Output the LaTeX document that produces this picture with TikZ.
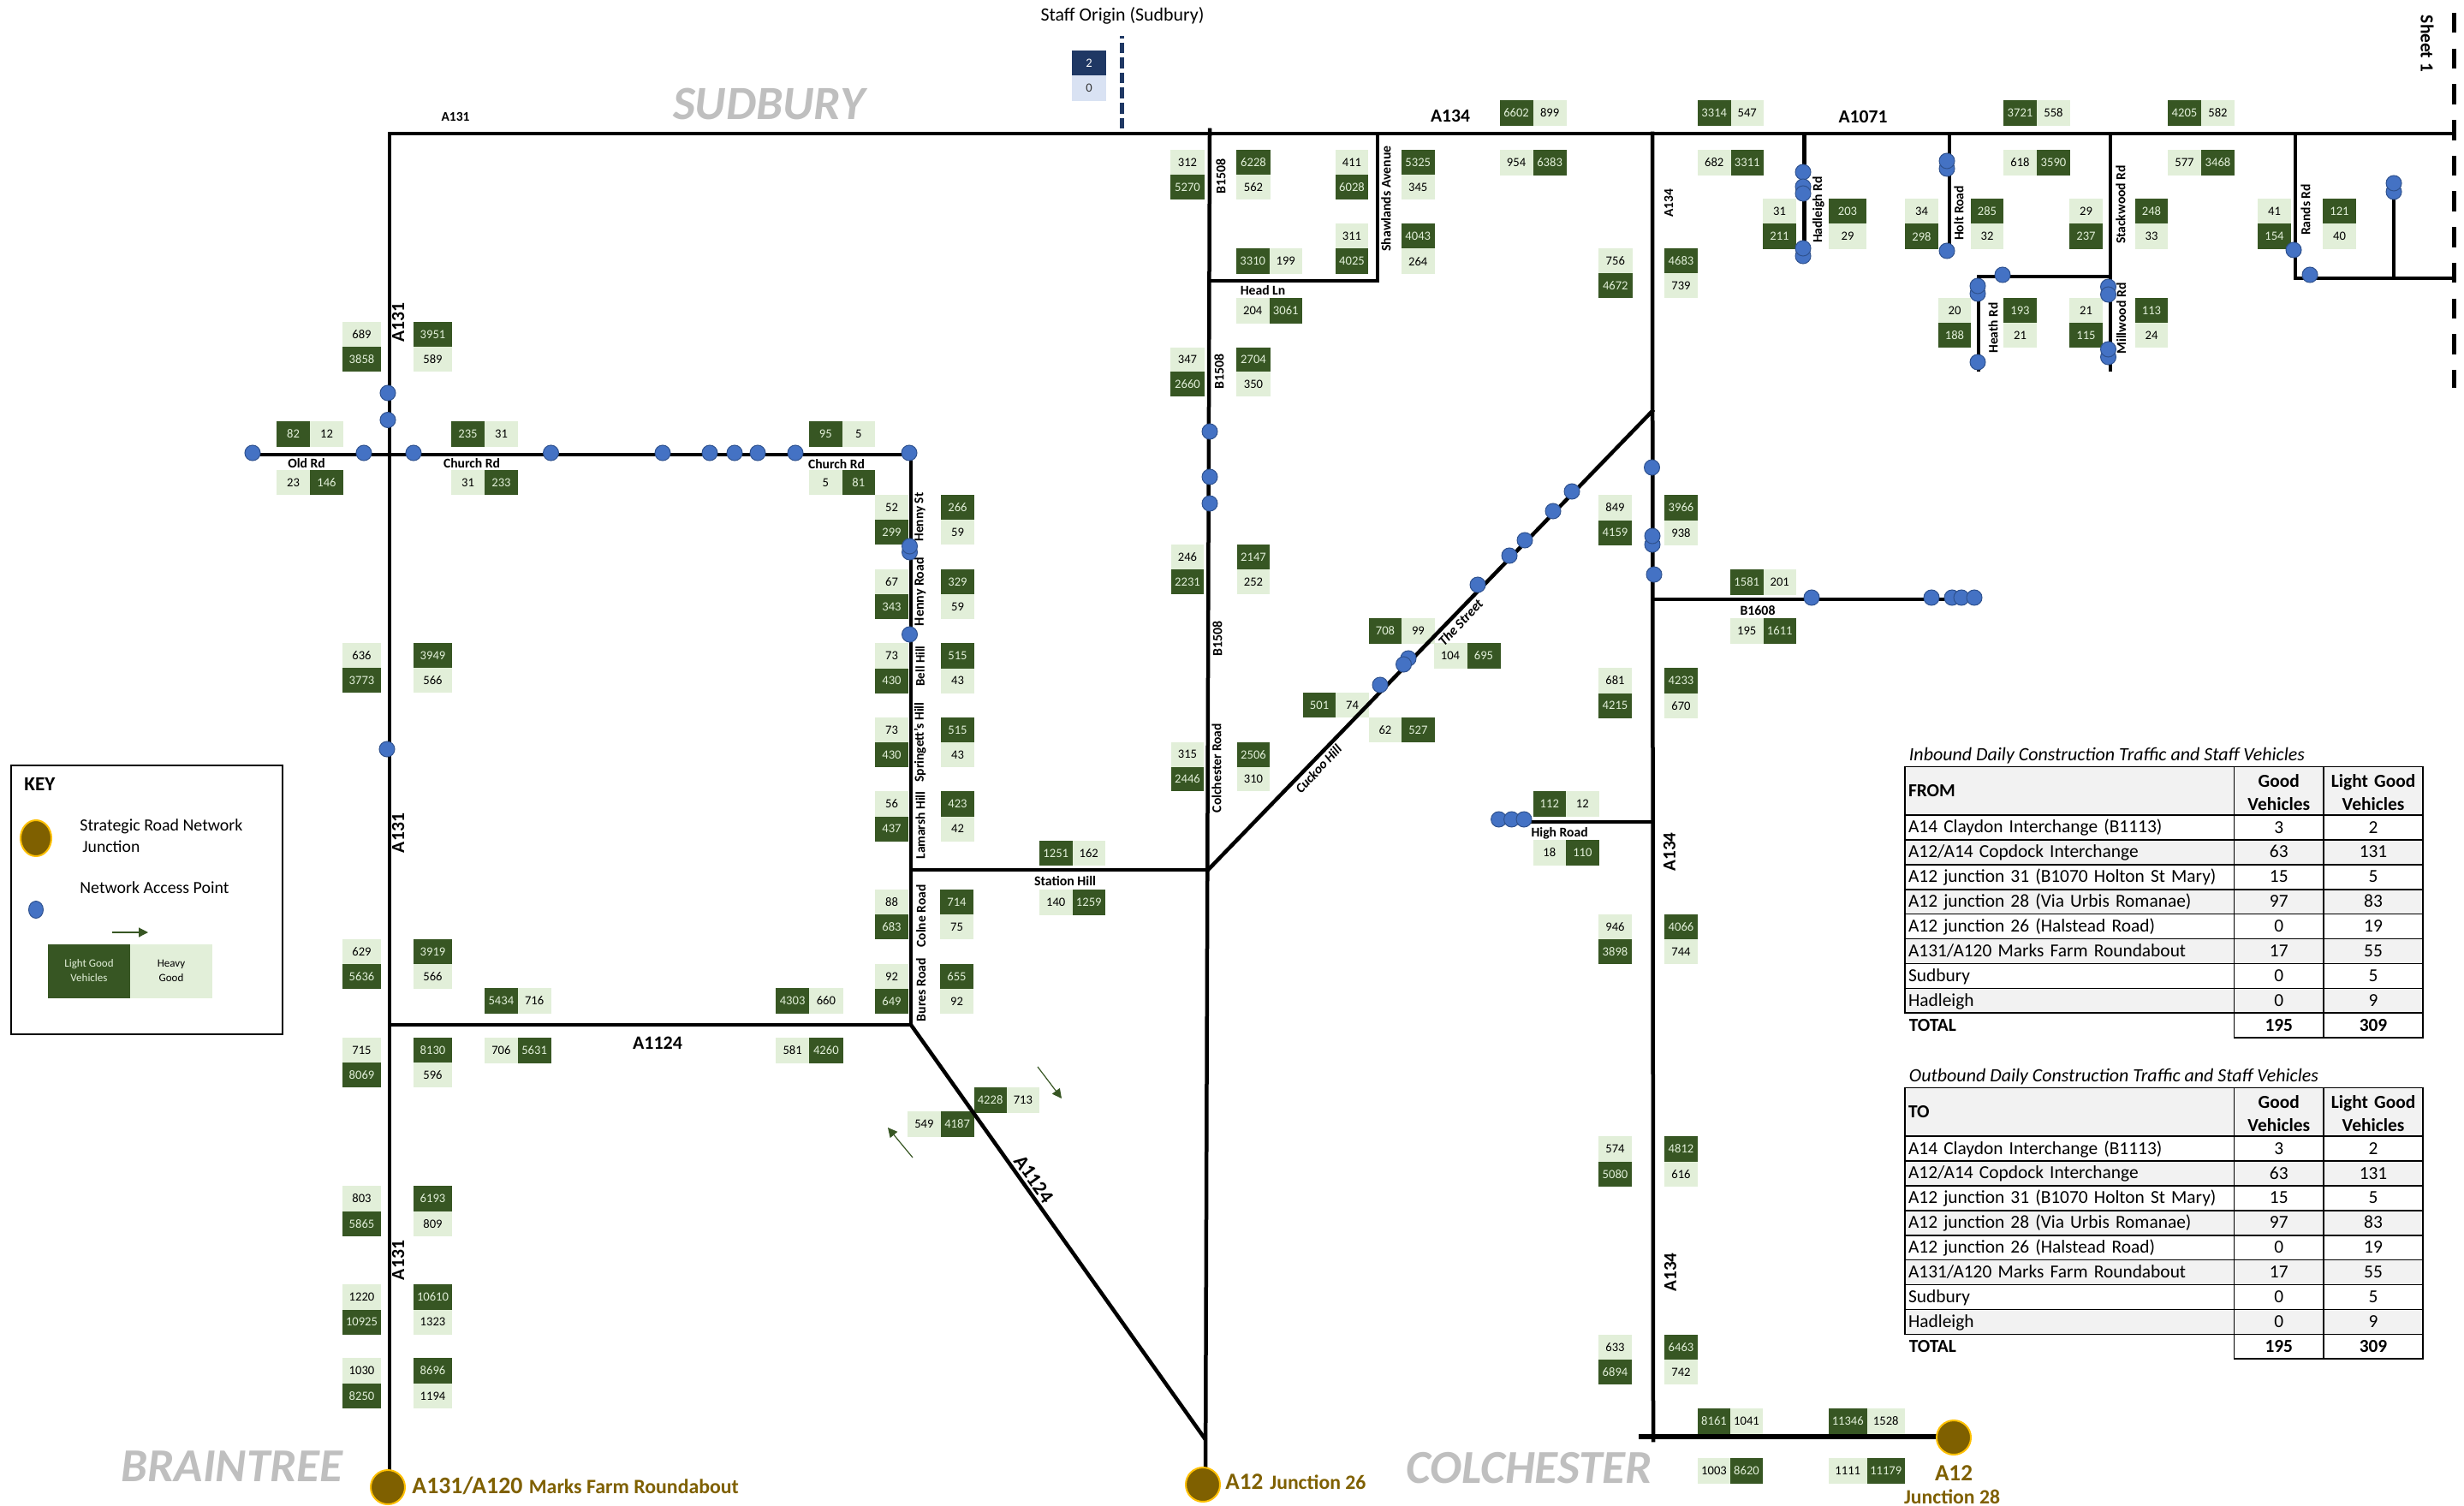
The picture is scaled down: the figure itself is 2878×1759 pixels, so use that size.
\documentclass[tikz,border=0pt]{standalone}
\usepackage{fontspec}
\usepackage{graphicx}
\setmainfont{Carlito}
\usetikzlibrary{arrows.meta,shapes.geometric}
\definecolor{dkg}{HTML}{375623}
\definecolor{ltg}{HTML}{E2EFD9}
\definecolor{navy}{HTML}{1F3864}
\definecolor{ltb}{HTML}{D9E2F3}
\definecolor{dotb}{HTML}{4472C4}
\definecolor{dotl}{HTML}{2F528F}
\definecolor{gold}{HTML}{7F6000}
\definecolor{orng}{HTML}{FFC000}
\definecolor{plc}{HTML}{BFBFBF}
\definecolor{tgrey}{HTML}{F2F2F2}
\tikzset{
 x=0.5pt,y=-0.5pt,
 road/.style={line width=2.25pt,black,line cap=rect},
 cellbase/.style={inner sep=0pt,font=\fontsize{7.3}{8}\selectfont},
 dk/.style={cellbase,fill=dkg,text=ltg},
 lt/.style={cellbase,fill=ltg,text=black},
 nv/.style={cellbase,fill=navy,text=white},
 lb/.style={cellbase,fill=ltb,text=black!80},
 dotn/.style={circle,fill=dotb,draw=dotl,line width=0.5pt,minimum size=9pt,inner sep=0pt},
 junc/.style={circle,fill=gold,draw=orng,line width=1pt,minimum size=20pt,inner sep=0pt},
 flowarrow/.style={draw=dkg,line width=0.6pt,-{Triangle[length=5.5pt,width=5.5pt]}},
 tcell/.style={draw=black,line width=0.8pt,inner ysep=0pt,inner xsep=2pt,font=\fontsize{10.7}{13.2}\selectfont},
 tlabel/.style={inner sep=0pt,font=\fontsize{10.7}{13.2}\selectfont},
}
\newcounter{nid}
\newcommand\tstrut{\rule[-1.7pt]{0pt}{10pt}}
\newcommand\cellbox[6]{\stepcounter{nid}\node[#5,minimum width={((#2)-(#1))*0.5pt},minimum height={((#4)-(#3))*0.5pt}] (c\thenid) at ({((#1)+(#2))/2},{((#3)+(#4))/2}) {#6};}
% upper / lower pairs
\newcommand\VDL[6]{\cellbox{#1}{#2}{#3}{(#3+#4)/2}{dk}{#5}\cellbox{#1}{#2}{(#3+#4)/2}{#4}{lt}{#6}}
\newcommand\VLD[6]{\cellbox{#1}{#2}{#3}{(#3+#4)/2}{lt}{#5}\cellbox{#1}{#2}{(#3+#4)/2}{#4}{dk}{#6}}
% left / right pairs
\newcommand\HDL[6]{\cellbox{#1}{(#1+#2)/2}{#3}{#4}{dk}{#5}\cellbox{(#1+#2)/2}{#2}{#3}{#4}{lt}{#6}}
\newcommand\HLD[6]{\cellbox{#1}{(#1+#2)/2}{#3}{#4}{lt}{#5}\cellbox{(#1+#2)/2}{#2}{#3}{#4}{dk}{#6}}
% text label fitted to a width (px)
\newcommand\lab[6][]{\stepcounter{nid}\node[inner sep=0pt,#1] (t\thenid) at (#2,#3) {\resizebox{\dimexpr #4pt/2\relax}{!}{#5{}#6}};}
\newcommand\dotat[2]{\stepcounter{nid}\node[dotn] (d\thenid) at (#1,#2) {};}
\newcommand\cellT[7]{\stepcounter{nid}\node[tcell,fill=#5,minimum width={((#2)-(#1))*0.5pt},text width={((#2)-(#1)-8)*0.5pt},minimum height={((#4)-(#3))*0.5pt},align=#6] (r\thenid) at ({((#1)+(#2))/2},{((#3)+(#4))/2}) {#7};}
\newcommand\maketable[4]{%
 \lab[anchor=west]{2229.5}{#1-12.5}{#3}{\itshape}{#2}
 \cellT{2225}{2609.5}{#1}{#1+56.5}{tgrey}{left}{\bfseries #4}
 \cellT{2609.5}{2714}{#1}{#1+56.5}{tgrey}{center}{\bfseries\rule{0pt}{9.2pt}Good\\ Vehicles}
 \cellT{2714}{2830}{#1}{#1+56.5}{tgrey}{center}{\bfseries\rule{0pt}{9.2pt}Light Good\\ Vehicles}
 \foreach \lbl/\va/\vb [count=\i] in {A14 Claydon Interchange (B1113)/3/2,{A12/A14 Copdock Interchange}/63/131,A12 junction 31 (B1070 Holton St Mary)/15/5,A12 junction 28 (Via Urbis Romanae)/97/83,A12 junction 26 (Halstead Road)/0/19,{A131/A120 Marks Farm Roundabout}/17/55,Sudbury/0/5,Hadleigh/0/9}{%
  \pgfmathsetmacro\ya{#1+56.5+(\i-1)*28.9}
  \pgfmathsetmacro\yb{\ya+28.9}
  \ifodd\i\def\rf{white}\else\def\rf{tgrey}\fi
  \cellT{2225}{2609.5}{\ya}{\yb}{\rf}{left}{\tstrut\lbl}
  \cellT{2609.5}{2714}{\ya}{\yb}{\rf}{center}{\tstrut\va}
  \cellT{2714}{2830}{\ya}{\yb}{\rf}{center}{\tstrut\vb}
 }
 \stepcounter{nid}\node[tlabel,anchor=west] (r\thenid) at (2229.5,#1+56.5+231.2+14.4) {\bfseries\tstrut TOTAL};
 \cellT{2609.5}{2714}{#1+287.7}{#1+316.5}{white}{center}{\tstrut\bfseries 195}
 \cellT{2714}{2830}{#1+287.7}{#1+316.5}{white}{center}{\tstrut\bfseries 309}
}
\begin{document}
\begin{tikzpicture}
\useasboundingbox (0,0) rectangle (2878,1759);
\fill[white] (0,0) rectangle (2878,1759);
% staff
\cellbox{1252}{1292}{59}{88}{nv}{2}
\cellbox{1252}{1292}{88}{118}{lb}{0}
% A131 column
\VLD{400}{445}{376}{434}{689}{3858} \VDL{483}{528}{376}{434}{3951}{589}
\VLD{400}{445}{751}{809}{636}{3773} \VDL{483}{528}{751}{809}{3949}{566}
\VLD{400}{445}{1097}{1155}{629}{5636} \VDL{483}{528}{1097}{1155}{3919}{566}
\VLD{400}{445}{1212}{1270}{715}{8069} \VDL{483}{528}{1212}{1270}{8130}{596}
\VLD{400}{445}{1385}{1444}{803}{5865} \VDL{483}{528}{1385}{1444}{6193}{809}
\VLD{400}{445}{1500}{1559}{1220}{10925} \VDL{483}{528}{1500}{1559}{10610}{1323}
\VLD{400}{445}{1586}{1645}{1030}{8250} \VDL{483}{528}{1586}{1645}{8696}{1194}
% Old Rd / Church Rd / A1124
\HDL{323}{401}{492}{522}{82}{12} \HLD{323}{401}{549}{578}{23}{146}
\HDL{527}{605}{492}{522}{235}{31} \HLD{527}{605}{549}{578}{31}{233}
\HDL{945}{1022}{492}{522}{95}{5} \HLD{945}{1022}{549}{578}{5}{81}
\HDL{566}{643.5}{1154}{1184}{5434}{716} \HLD{566}{643.5}{1212}{1242}{706}{5631}
\HDL{906}{984.5}{1154}{1184}{4303}{660} \HLD{906}{984.5}{1212}{1242}{581}{4260}
% Henny / Colne column
\VLD{1022}{1061}{578}{636}{52}{299} \VDL{1099}{1138}{578}{636}{266}{59}
\VLD{1022}{1061}{665}{723}{67}{343} \VDL{1099}{1138}{665}{723}{329}{59}
\VLD{1022}{1061}{751}{810}{73}{430} \VDL{1099}{1138}{751}{810}{515}{43}
\VLD{1022}{1061}{838}{896}{73}{430} \VDL{1099}{1138}{838}{896}{515}{43}
\VLD{1022}{1061}{924}{983}{56}{437} \VDL{1099}{1138}{924}{983}{423}{42}
\VLD{1022}{1061}{1039}{1097}{88}{683} \VDL{1098}{1137}{1039}{1097}{714}{75}
\VLD{1022}{1061}{1126}{1184}{92}{649} \VDL{1098}{1137}{1126}{1184}{655}{92}
\HDL{1214}{1291}{982}{1011}{1251}{162} \HLD{1214}{1291}{1039}{1069}{140}{1259}
% B1508 column
\VLD{1367}{1407}{175}{233}{312}{5270} \VDL{1444}{1484}{175}{233}{6228}{562}
\VLD{1367}{1407}{406}{463}{347}{2660} \VDL{1444}{1484}{406}{463}{2704}{350}
\VLD{1368}{1406}{636}{694}{246}{2231} \VDL{1445}{1483}{636}{694}{2147}{252}
\VLD{1368}{1406}{867}{924}{315}{2446} \VDL{1445}{1483}{867}{924}{2506}{310}
\VLD{1560}{1598}{175}{233}{411}{6028} \VDL{1637}{1675.5}{175}{233}{5325}{345}
\VLD{1560}{1598}{261}{320}{311}{4025} \VDL{1637}{1675.5}{261}{320}{4043}{264}
\HDL{1444}{1521}{290}{320}{3310}{199} \HLD{1444}{1521}{348}{378}{204}{3061}
% A134 top
\HDL{1751.5}{1829.6}{117}{147}{6602}{899} \HLD{1751.5}{1829.6}{175}{205}{954}{6383}
\HDL{1983}{2060}{117}{147}{3314}{547} \HLD{1983}{2060}{175}{205}{682}{3311}
\VLD{1867}{1906.6}{290}{348}{756}{4672} \VDL{1944}{1983}{290}{348}{4683}{739}
% A1071 side roads
\VLD{2059}{2098}{232}{291}{31}{211} \VDL{2136}{2180}{232}{291}{203}{29}
\VLD{2225}{2264}{232}{291}{34}{298} \VDL{2302}{2340}{232}{291}{285}{32}
\HDL{2340}{2418}{117}{147}{3721}{558} \HLD{2340}{2418}{175}{205}{618}{3590}
\HDL{2532}{2610}{117}{147}{4205}{582} \HLD{2532}{2610}{175}{205}{577}{3468}
\VLD{2417}{2456}{232}{291}{29}{237} \VDL{2494}{2532}{232}{291}{248}{33}
\VLD{2637}{2676}{232}{291}{41}{154} \VDL{2713}{2752}{232}{291}{121}{40}
\VLD{2264}{2302}{348}{406}{20}{188} \VDL{2340}{2379}{348}{406}{193}{21}
\VLD{2417}{2456}{348}{406}{21}{115} \VDL{2494}{2532}{348}{406}{113}{24}
% A134 column
\VLD{1867}{1906}{578}{637}{849}{4159} \VDL{1944}{1983}{578}{637}{3966}{938}
\VLD{1867}{1906}{780}{839}{681}{4215} \VDL{1944}{1983}{780}{839}{4233}{670}
\VLD{1867}{1906}{1068}{1126}{946}{3898} \VDL{1944}{1983}{1068}{1126}{4066}{744}
\VLD{1867}{1906}{1327}{1386}{574}{5080} \VDL{1944}{1983}{1327}{1386}{4812}{616}
\VLD{1867}{1906}{1559}{1617}{633}{6894} \VDL{1944}{1983}{1559}{1617}{6463}{742}
\HDL{1983}{2059}{1645}{1675}{8161}{1041} \HLD{1983}{2059}{1703}{1733}{1003}{8620}
\HDL{2136}{2225}{1645}{1675}{11346}{1528} \HLD{2136}{2225}{1703}{1733}{1111}{11179}
\HDL{2021}{2098}{665}{695}{1581}{201} \HLD{2021}{2098}{722}{752}{195}{1611}
\HDL{1790.5}{1867.6}{924}{953.5}{112}{12} \HLD{1790.5}{1867.6}{981}{1011}{18}{110}
% diagonal
\HDL{1598.7}{1675.6}{722}{752}{708}{99} \HLD{1674.5}{1752.5}{751}{781}{104}{695}
\HDL{1521.8}{1598.7}{809}{838}{501}{74} \HLD{1598.7}{1675.6}{838}{867}{62}{527}
\HDL{1137.5}{1214}{1270}{1300}{4228}{713} \HLD{1060}{1137.5}{1298}{1328}{549}{4187}
% junction coordinates
\coordinate (tl) at (455,156);
\coordinate (tr) at (2866,156);
\coordinate (bm) at (455,1737);
\coordinate (oldw) at (295,531);
\coordinate (che) at (1064,531);
\coordinate (wa) at (455,1197);
\coordinate (ea) at (1064,1197);
\coordinate (jb) at (1407,1680);
\coordinate (bt) at (1413,152);
\coordinate (bb) at (1408,1734);
\coordinate (sw) at (1064,1016);
\coordinate (se) at (1411,1016);
\coordinate (ds) at (1930,480);
\coordinate (a1) at (1930,156);
\coordinate (a2) at (1931,1682);
\coordinate (bo1) at (1917,1678);
\coordinate (bo2) at (2262,1678);
\coordinate (b16w) at (1930,700);
\coordinate (b16e) at (2306,700);
\coordinate (hiw) at (1750,960);
\coordinate (hie) at (1930,960);
\coordinate (sh1) at (1609,156);
\coordinate (sh2) at (1609,328);
\coordinate (sh3) at (1412,328);
% roads
\draw[road] (tl) -- (tr);
\draw[road] (tl) -- (bm);
\draw[road] (oldw) -- (che);
\draw[road] (che) -- (ea);
\draw[road] (wa) -- (ea);
\draw[road] (ea) -- (jb);
\draw[road] (bt) -- (bb);
\draw[road] (sw) -- (se);
\draw[road] (se) -- (ds);
\draw[road] (a1) -- (a2);
\draw[road,line width=3pt] (bo1) -- (bo2);
\draw[road] (b16w) -- (b16e);
\draw[road] (hiw) -- (hie);
\draw[road] (sh1) -- (sh2) -- (sh3);
\coordinate (ha1) at (2107.5,156); \coordinate (ha2) at (2107.5,298);
\coordinate (ho1) at (2277,156); \coordinate (ho2) at (2277,293);
\coordinate (st1) at (2465,156); \coordinate (st2) at (2465,432);
\coordinate (he1) at (2311,323); \coordinate (he2) at (2311,432);
\coordinate (ra1) at (2681,156); \coordinate (ra2) at (2681,325);
\coordinate (re) at (2866,325); \coordinate (rv1) at (2796,325); \coordinate (rv2) at (2796,215);
\draw[road] (ha1) -- (ha2);
\draw[road] (ho1) -- (ho2);
\draw[road] (st1) -- (st2);
\draw[road] (st1 |- he1) -- (he1) -- (he2);
\draw[road] (ra1) -- (ra2) -- (re);
\draw[road] (rv1) -- (rv2);
% dashed lines
\coordinate (sd1) at (2866,15); \coordinate (sd2) at (2866,453);
\draw[black,line width=2.5pt,dash pattern=on 11.75pt off 9.1pt] (sd1) -- (sd2);
\coordinate (so1) at (1310,42); \coordinate (so2) at (1310,151);
\draw[navy,line width=2.5pt,dash pattern=on 6.35pt off 2.45pt,dash phase=5pt] (so1) -- (so2);
\lab{1311}{18.5}{191}{}{Staff Origin (Sudbury)}
% place names
\lab[text=plc]{898}{121}{224}{\bfseries\itshape}{SUDBURY}
\lab[text=plc]{271}{1713}{258}{\bfseries\itshape}{BRAINTREE}
\lab[text=plc]{1786}{1715}{287}{\bfseries\itshape}{COLCHESTER}
% horizontal road labels
\lab{532}{136}{33}{\bfseries}{A131}
\lab{1694}{135}{46}{\bfseries}{A134}
\lab{2176}{136}{57}{\bfseries}{A1071}
\lab{768}{1218}{58}{\bfseries}{A1124}
\lab{358}{541}{43.5}{\bfseries}{Old Rd}
\lab{551}{541}{66}{\bfseries}{Church Rd}
\lab{977}{542}{66}{\bfseries}{Church Rd}
\lab{1475}{339}{52.5}{\bfseries}{Head Ln}
\lab{1244}{1029}{72}{\bfseries}{Station Hill}
\lab{1821.6}{973}{66}{\bfseries}{High Road}
\lab{2053}{713}{41}{\bfseries}{B1608}
% rotated road labels
\lab[rotate=90]{465}{377}{46}{\bfseries}{A131}
\lab[rotate=90]{465}{973}{46}{\bfseries}{A131}
\lab[rotate=90]{465}{1472}{46}{\bfseries}{A131}
\lab[rotate=90]{1949}{237}{33}{\bfseries}{A134}
\lab[rotate=90]{1950}{995}{45}{\bfseries}{A134}
\lab[rotate=90]{1951}{1486}{45}{\bfseries}{A134}
\lab[rotate=90]{1426}{206}{41}{\bfseries}{B1508}
\lab[rotate=90]{1424}{434}{41}{\bfseries}{B1508}
\lab[rotate=90]{1422}{746}{41}{\bfseries}{B1508}
\lab[rotate=90]{1619}{232}{123}{\bfseries}{Shawlands Avenue}
\lab[rotate=90]{1421}{897}{104}{\bfseries}{Colchester Road}
\lab[rotate=90]{2124}{245}{78}{\bfseries}{Hadleigh Rd}
\lab[rotate=90]{2288}{249}{64}{\bfseries}{Holt Road}
\lab[rotate=90]{2477}{239}{92}{\bfseries}{Stackwood Rd}
\lab[rotate=90]{2328}{383}{59}{\bfseries}{Heath Rd}
\lab[rotate=90]{2477.6}{372}{83}{\bfseries}{Millwood Rd}
\lab[rotate=90]{2693}{245}{60}{\bfseries}{Rands Rd}
\lab[rotate=-90]{2835}{51}{66}{\bfseries}{Sheet 1}
\lab[rotate=90]{1074.6}{604}{57}{\bfseries}{Henny St}
\lab[rotate=90]{1074.6}{691}{80}{\bfseries}{Henny Road}
\lab[rotate=90]{1074.6}{778}{47}{\bfseries}{Bell Hill}
\lab[rotate=90]{1074.6}{867}{93}{\bfseries}{Springett's Hill}
\lab[rotate=90]{1075}{964}{79}{\bfseries}{Lamarsh Hill}
\lab[rotate=90]{1075.7}{1070}{73}{\bfseries}{Colne Road}
\lab[rotate=90]{1075.7}{1156}{74}{\bfseries}{Bures Road}
\lab[rotate=47]{1540}{898}{71}{\bfseries\itshape}{Cuckoo Hill}
\lab[rotate=47]{1706}{727}{68}{\bfseries\itshape}{The Street}
\lab[rotate=-54.7]{1208}{1377}{62}{\bfseries}{A1124}
% flow arrows
\coordinate (fa1) at (1066,1352); \coordinate (fa2) at (1037,1317);
\coordinate (fb1) at (1212,1246); \coordinate (fb2) at (1240,1283);
\draw[flowarrow] (fa1) -- (fa2);
\draw[flowarrow] (fb1) -- (fb2);
% access points
\dotat{453}{459}\dotat{453}{490.5}\dotat{295}{529}\dotat{425}{529}\dotat{483}{529}\dotat{643.5}{529}
\dotat{774}{529}\dotat{829}{529}\dotat{858}{529}\dotat{885}{529}\dotat{929}{529}\dotat{1062}{529}
\dotat{1062.5}{645}\dotat{1062.5}{638}\dotat{1062.5}{741}
\dotat{1413}{504}\dotat{1413}{557}\dotat{1413}{588}
\dotat{1836}{574}\dotat{1814}{597}\dotat{1781}{631}\dotat{1763}{649}\dotat{1726}{683}
\dotat{1645}{769}\dotat{1639.5}{776}\dotat{1612}{800}
\dotat{1929.5}{546}\dotat{1930}{636}\dotat{1930}{626}\dotat{1932}{671}
\dotat{2116}{698}\dotat{2256}{698}\dotat{2280}{698}\dotat{2291}{698}\dotat{2306}{698}
\dotat{1750.6}{957}\dotat{1765.6}{957}\dotat{1780}{957}
\dotat{452}{875}
\dotat{2106}{201}\dotat{2106}{218}\dotat{2106}{226}\dotat{2106}{299}\dotat{2106}{290}
\dotat{2274}{197}\dotat{2274}{188}\dotat{2274}{293}
\dotat{2339}{321}\dotat{2310}{343}\dotat{2310}{334}\dotat{2310}{423}
\dotat{2462.5}{335}\dotat{2462.5}{344}\dotat{2462.5}{417}\dotat{2462.5}{408}
\dotat{2679}{292}\dotat{2698}{321}
\dotat{2796}{224}\dotat{2796}{214}
% strategic junctions
\node[junc] (jm) at (453,1737) {};
\node[junc] (j26) at (1405,1734) {};
\node[junc] (j28) at (2282,1679) {};
\lab[anchor=base west,text=gold]{481}{1744}{129}{\bfseries}{A131/A120}
\lab[anchor=base west,text=gold]{617.5}{1744}{245}{\bfseries}{Marks Farm Roundabout}
\lab[anchor=base west,text=gold]{1431}{1739}{44}{\bfseries}{A12}
\lab[anchor=base west,text=gold]{1483}{1739}{112}{\bfseries}{Junction 26}
\lab[anchor=base,text=gold]{2282}{1729}{44}{\bfseries}{A12}
\lab[anchor=base,text=gold]{2280}{1756}{112}{\bfseries}{Junction 28}
% key
\node[draw=black,line width=1pt,minimum width=158.75pt,minimum height=156.75pt,inner sep=0pt] (keybox) at (171.25,1050.75) {};
\lab[anchor=west]{28}{916}{36}{\bfseries}{KEY}
\node[ellipse,fill=gold,draw=orng,line width=1pt,minimum width=18pt,minimum height=21pt,inner sep=0pt] (keyj) at (42,979) {};
\lab[anchor=west]{93}{965}{190}{}{Strategic Road Network}
\lab[anchor=west]{96}{989}{67}{}{Junction}
\lab[anchor=west]{93}{1037}{174}{}{Network Access Point}
\node[ellipse,fill=dotb,draw=dotl,line width=0.5pt,minimum width=8.5pt,minimum height=10pt,inner sep=0pt] (keyd) at (42,1062.5) {};
\coordinate (ka1) at (131,1089); \coordinate (ka2) at (173,1089);
\draw[flowarrow] (ka1) -- (ka2);
\cellbox{56}{152}{1103}{1166}{dk}{\fontsize{6.5}{8.5}\selectfont\begin{tabular}{@{}c@{}}Light Good\\[-0.3pt] Vehicles\end{tabular}}
\cellbox{152}{248}{1103}{1166}{lt}{\fontsize{6.5}{8.5}\selectfont\begin{tabular}{@{}c@{}}Heavy\\[-0.3pt] Good\end{tabular}}
% tables
\maketable{895.5}{Inbound Daily Construction Traffic and Staff Vehicles}{462}{FROM}
\maketable{1270.6}{Outbound Daily Construction Traffic and Staff Vehicles}{478}{TO}
\end{tikzpicture}
\end{document}
